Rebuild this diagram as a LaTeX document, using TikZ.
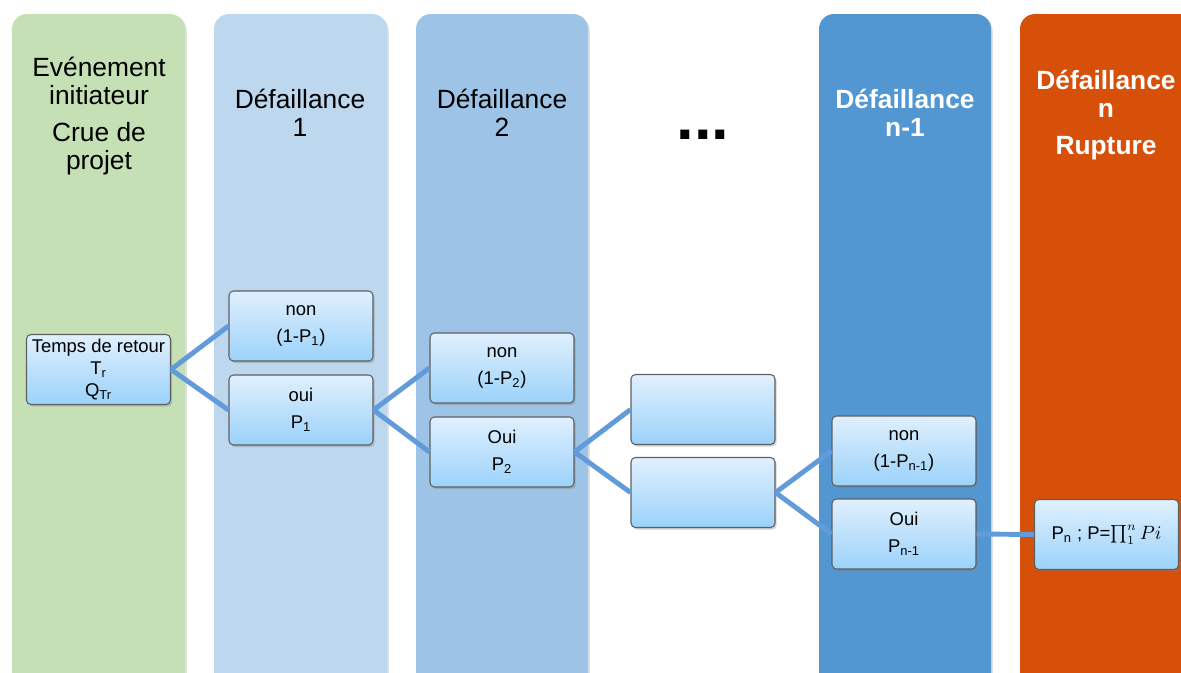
\documentclass[tikz,border=0pt]{standalone}
\usepackage{fontspec}
\setmainfont{Liberation Sans}
\usepackage{xcolor}
\usetikzlibrary{shadows}
\definecolor{colinit}{RGB}{197,224,180}
\definecolor{colone}{RGB}{189,215,238}
\definecolor{coltwo}{RGB}{157,195,230}
\definecolor{colnm}{RGB}{82,150,210}
\definecolor{colrup}{RGB}{214,80,10}
\definecolor{boxtop}{RGB}{224,240,254}
\definecolor{boxbot}{RGB}{155,210,250}
\definecolor{boxline}{RGB}{95,95,95}
\definecolor{link}{RGB}{98,155,218}
\newcommand{\pidx}[1]{\textsubscript{#1}}

\begin{document}
\begin{tikzpicture}[
  x=0.02cm,y=-0.02cm,
  font=\fontsize{10.5}{15.3}\selectfont,
  col/.style={rounded corners=0.3cm,general shadow={fill=black,opacity=0.12,shadow xshift=1pt,shadow yshift=-1pt}},
  hd/.style={align=center,font=\fontsize{15}{16}\selectfont},
  hdw/.style={align=center,text=white,font=\fontsize{15}{16}\selectfont\bfseries},
  bx/.style={draw=boxline,line width=0.6pt,rounded corners=2.5pt,top color=boxtop,bottom color=boxbot,
    minimum width=2.88cm,minimum height=1.4cm,align=center,inner sep=1pt,
    drop shadow={opacity=0.35,shadow xshift=1pt,shadow yshift=-1.2pt}},
  lk/.style={draw=link,line width=2.8pt}
]
\useasboundingbox (0,0) rectangle (1181,673);

% columns
\begin{scope}
\clip (0,0) rectangle (1181,673);
\fill[col,fill=colinit] (12,14) rectangle (185,720);
\fill[col,fill=colone]  (214,14) rectangle (387,720);
\fill[col,fill=coltwo]  (416,14) rectangle (588,720);
\fill[col,fill=colnm]   (819,14) rectangle (991,720);
\fill[col,fill=colrup]  (1020,14) rectangle (1220,720);
\end{scope}

% headers
\node[hd] (hinit) at (99,116) {Evénement\\initiateur\\[5pt]Crue de\\projet};
\node[hd] (hone) at (300,113) {Défaillance\\1};
\node[hd] (htwo) at (502,113) {Défaillance\\2};
\node[font=\fontsize{36}{36}\selectfont\bfseries] (dots) at (703,135) {...};
\node[hdw] (hnm) at (905,113) {Défaillance\\n-1};
\node[hdw] (hrup) at (1106,115) {Défaillance\\n\\[5pt]Rupture};

% boxes
\node[bx,font=\fontsize{10.5}{12.5}\selectfont] (tr) at (98.5,369.5) {Temps de retour\\T\pidx{r}\\Q\pidx{Tr}};
\node[bx] (n1) at (301,326) {non\\(1-P\pidx{1})};
\node[bx] (o1) at (301,410) {oui\\P\pidx{1}};
\node[bx] (n2) at (502,368) {non\\(1-P\pidx{2})};
\node[bx] (o2) at (502,452) {Oui\\P\pidx{2}};
\node[bx] (e1) at (703,409.5) {};
\node[bx] (e2) at (703,492.5) {};
\node[bx] (nn) at (904,451) {non\\(1-P\pidx{n-1})};
\node[bx] (on) at (904,534) {Oui\\P\pidx{n-1}};
\node[bx] (pn) at (1106.5,534.5) {P\pidx{n} ; P=$\prod_1^n Pi$};

\foreach \a/\b in {tr/n1,tr/o1,o1/n2,o1/o2,o2/e1,o2/e2,e2/nn,e2/on,on/pn}
  \draw[lk] (\a.east) -- (\b.west);
\end{tikzpicture}
\end{document}
